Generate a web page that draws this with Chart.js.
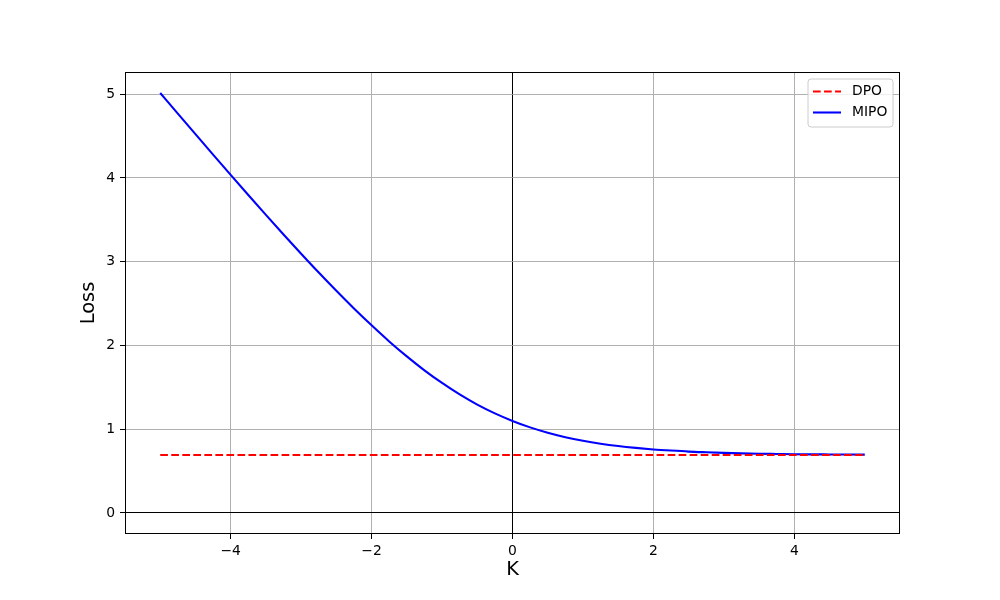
<!DOCTYPE html>
<html>
<head>
<meta charset="utf-8">
<script src="https://cdn.jsdelivr.net/npm/chart.js@4"></script>
<style>
html, body { margin: 0; padding: 0; background: #fff; }
canvas { display: block; }
</style>
</head>
<body>
<canvas id="c" width="1000" height="600"></canvas>
<script>
// ---- data ----
const kValues  = [-5, -4.75, -4.5, -4.25, -4, -3.75, -3.5, -3.25, -3, -2.75, -2.5, -2.25, -2, -1.75, -1.5, -1.25, -1, -0.75, -0.5, -0.25,
                  0, 0.25, 0.5, 0.75, 1, 1.25, 1.5, 1.75, 2, 2.25, 2.5, 2.75, 3, 3.25, 3.5, 3.75, 4, 4.25, 4.5, 4.75, 5];
const mipoLoss = [5.013, 4.767, 4.522, 4.278, 4.036, 3.796, 3.559, 3.325, 3.095, 2.870, 2.652, 2.441, 2.240, 2.048, 1.869, 1.703, 1.552, 1.415, 1.294, 1.189,
                  1.099, 1.022, 0.958, 0.905, 0.862, 0.827, 0.799, 0.777, 0.759, 0.745, 0.733, 0.725, 0.718, 0.712, 0.708, 0.705, 0.702, 0.700, 0.699, 0.698, 0.697];
const dpoLoss  = [0.693, 0.693, 0.693, 0.693, 0.693, 0.693, 0.693, 0.693, 0.693, 0.693, 0.693, 0.693, 0.693, 0.693, 0.693, 0.693, 0.693, 0.693, 0.693, 0.693,
                  0.693, 0.693, 0.693, 0.693, 0.693, 0.693, 0.693, 0.693, 0.693, 0.693, 0.693, 0.693, 0.693, 0.693, 0.693, 0.693, 0.693, 0.693, 0.693, 0.693, 0.693];
const seriesLabels = ['DPO', 'MIPO'];
const xTickValues = [-4, -2, 0, 2, 4];
const yTickValues = [0, 1, 2, 3, 4, 5];
const xLabel = 'K';
const yLabel = 'Loss';

const FONT = 'DejaVu Sans';
const fmt = v => (v < 0 ? '\u2212' + Math.abs(v) : String(v));
const toPts = ys => kValues.map((k, i) => ({ x: k, y: ys[i] }));

const framePlugin = {
  id: 'frame',
  afterDatasetsDraw(chart) {
    const a = chart.chartArea, ctx = chart.ctx;
    ctx.save();
    ctx.strokeStyle = '#000';
    ctx.lineWidth = 1;
    ctx.strokeRect(a.left + 0.5, a.top + 0.5, a.right - a.left - 1, a.bottom - a.top - 1);
    ctx.restore();
  }
};

const legendPlugin = {
  id: 'mplLegend',
  afterDraw(chart) {
    const ctx = chart.ctx;
    const a = chart.chartArea;
    const x0 = a.right - 92, y0 = a.top + 7, w = 85, h = 48;
    ctx.save();
    const r = 3;
    ctx.beginPath();
    ctx.moveTo(x0 + r, y0);
    ctx.lineTo(x0 + w - r, y0);
    ctx.quadraticCurveTo(x0 + w, y0, x0 + w, y0 + r);
    ctx.lineTo(x0 + w, y0 + h - r);
    ctx.quadraticCurveTo(x0 + w, y0 + h, x0 + w - r, y0 + h);
    ctx.lineTo(x0 + r, y0 + h);
    ctx.quadraticCurveTo(x0, y0 + h, x0, y0 + h - r);
    ctx.lineTo(x0, y0 + r);
    ctx.quadraticCurveTo(x0, y0, x0 + r, y0);
    ctx.closePath();
    ctx.fillStyle = 'rgba(255,255,255,0.8)';
    ctx.fill();
    ctx.strokeStyle = '#cccccc';
    ctx.lineWidth = 1;
    ctx.stroke();
    chart.data.datasets.forEach((ds, i) => {
      const yy = y0 + 12.5 + i * 21;
      ctx.beginPath();
      ctx.setLineDash(ds.borderDash || []);
      ctx.strokeStyle = ds.borderColor;
      ctx.lineWidth = ds.borderWidth;
      ctx.moveTo(x0 + 5, yy);
      ctx.lineTo(x0 + 33, yy);
      ctx.stroke();
      ctx.setLineDash([]);
      ctx.fillStyle = '#000';
      ctx.font = '13.9px "' + FONT + '"';
      ctx.textBaseline = 'middle';
      ctx.textAlign = 'left';
      ctx.fillText(ds.label, x0 + 44, yy);
    });
    ctx.restore();
  }
};

const gridColor = ctx => (ctx.tick && ctx.tick.value === 0 ? '#000000' : '#b0b0b0');

new Chart(document.getElementById('c'), {
  type: 'line',
  data: {
    datasets: [
      { label: seriesLabels[0], data: toPts(dpoLoss), borderColor: '#ff0000', borderWidth: 2.08,
        borderDash: [7.7, 3.33], pointRadius: 0, fill: false, tension: 0 },
      { label: seriesLabels[1], data: toPts(mipoLoss), borderColor: '#0000ff', borderWidth: 2.08,
        pointRadius: 0, fill: false, cubicInterpolationMode: 'monotone' }
    ]
  },
  options: {
    responsive: false,
    animation: false,
    layout: { padding: { left: 77, right: 100, top: 72, bottom: 0 } },
    plugins: { legend: { display: false }, tooltip: { enabled: false } },
    scales: {
      x: {
        type: 'linear', min: -5.5, max: 5.5,
        afterBuildTicks: s => { s.ticks = xTickValues.map(v => ({ value: v })); },
        afterFit: s => { s.height = 66; },
        grid: { color: gridColor, lineWidth: 1, tickColor: '#000', tickLength: 5, drawTicks: true },
        border: { display: false },
        ticks: { color: '#000', padding: 4, font: { family: FONT, size: 13.9 }, maxRotation: 0, callback: v => fmt(v) },
        title: { display: true, text: xLabel, color: '#000', font: { family: FONT, size: 19.4 }, padding: { top: 0, bottom: 18.4 } }
      },
      y: {
        type: 'linear', min: -0.2507, max: 5.264,
        afterBuildTicks: s => { s.ticks = yTickValues.map(v => ({ value: v })); },
        afterFit: s => { s.width = 48; },
        grid: { color: gridColor, lineWidth: 1, tickColor: '#000', tickLength: 5, drawTicks: true },
        border: { display: false },
        ticks: { color: '#000', padding: 5, font: { family: FONT, size: 13.9 }, callback: v => fmt(v) },
        title: { display: true, text: yLabel, color: '#000', font: { family: FONT, size: 19.4 }, padding: { top: 0, bottom: 0 } }
      }
    }
  },
  plugins: [framePlugin, legendPlugin]
});
</script>
</body>
</html>
